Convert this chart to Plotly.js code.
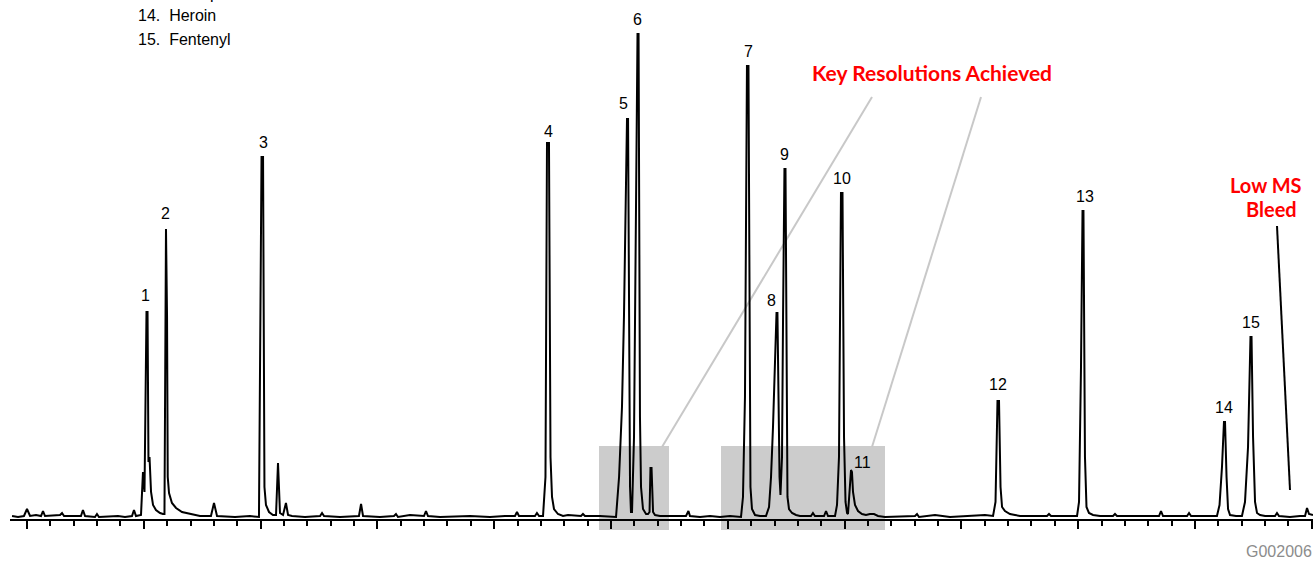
<!DOCTYPE html>
<html>
<head>
<meta charset="utf-8">
<script src="https://cdn.plot.ly/plotly-3.0.1.min.js"></script>
<style>
  html, body { margin: 0; padding: 0; background: #ffffff; }
  #chart { width: 1315px; height: 561px; }
</style>
</head>
<body>
<div id="chart"></div>
<script>
// ---- Data ----
// Retention time (min) and detector abundance (arbitrary units) of the total ion trace
const retentionTime = [
  1.872, 1.923, 1.974, 2.000, 2.026, 2.077, 2.120, 2.137, 2.154, 2.283, 2.300, 2.317,
  2.462, 2.479, 2.497, 2.582, 2.599, 2.616, 2.779, 2.839, 2.899, 2.916, 2.933, 2.976,
  2.993, 3.006, 3.023, 3.032, 3.040, 3.049, 3.062, 3.079, 3.104, 3.139, 3.164, 3.177,
  3.190, 3.199, 3.205, 3.216, 3.241, 3.276, 3.327, 3.396, 3.481, 3.575, 3.601, 3.627,
  3.781, 3.909, 3.986, 4.008, 4.021, 4.033, 4.046, 4.072, 4.106, 4.132, 4.149, 4.166,
  4.192, 4.217, 4.235, 4.269, 4.380, 4.509, 4.526, 4.543, 4.680, 4.842, 4.860, 4.877,
  5.022, 5.142, 5.159, 5.176, 5.279, 5.399, 5.416, 5.433, 5.536, 5.793, 5.964, 6.092,
  6.178, 6.195, 6.212, 6.349, 6.366, 6.384, 6.418, 6.439, 6.452, 6.469, 6.482, 6.495,
  6.512, 6.546, 6.589, 6.632, 6.743, 6.760, 6.777, 6.906, 7.009, 7.043, 7.069, 7.094,
  7.111, 7.128, 7.137, 7.146, 7.154, 7.163, 7.171, 7.180, 7.197, 7.214, 7.227, 7.236,
  7.248, 7.257, 7.274, 7.300, 7.317, 7.330, 7.338, 7.347, 7.360, 7.377, 7.419, 7.505,
  7.591, 7.642, 7.663, 7.676, 7.762, 7.848, 7.933, 8.019, 8.113, 8.130, 8.147, 8.164,
  8.177, 8.186, 8.194, 8.207, 8.233, 8.276, 8.327, 8.353, 8.370, 8.387, 8.404, 8.417,
  8.425, 8.434, 8.443, 8.451, 8.464, 8.473, 8.485, 8.494, 8.503, 8.511, 8.524, 8.550,
  8.584, 8.618, 8.712, 8.729, 8.746, 8.824, 8.841, 8.858, 8.918, 8.935, 8.952, 8.969,
  8.982, 8.995, 9.008, 9.021, 9.029, 9.042, 9.055, 9.063, 9.072, 9.089, 9.115, 9.149,
  9.183, 9.217, 9.252, 9.286, 9.346, 9.603, 9.620, 9.637, 9.774, 9.902, 10.116, 10.202,
  10.271, 10.292, 10.309, 10.322, 10.335, 10.348, 10.373, 10.416, 10.459, 10.502, 10.673, 10.733,
  10.750, 10.767, 10.887, 10.990, 11.007, 11.024, 11.037, 11.045, 11.058, 11.071, 11.092, 11.127,
  11.187, 11.298, 11.315, 11.332, 11.443, 11.572, 11.692, 11.709, 11.726, 11.829, 11.932, 11.949,
  11.966, 12.085, 12.188, 12.210, 12.231, 12.248, 12.257, 12.270, 12.283, 12.300, 12.351, 12.402,
  12.428, 12.454, 12.475, 12.484, 12.497, 12.514, 12.531, 12.557, 12.600, 12.685, 12.702, 12.719,
  12.813, 12.899, 12.942, 12.959, 12.976, 13.010
];
const abundance = [
  1, 0, 1, 8, 1, 2, 1, 6, 1, 2, 4, 1,
  1, 7, 1, 0, 3, 0, 1, 0, 1, 7, 1, 2,
  45, 25, 205, 205, 55, 60, 25, 12, 7, 4, 3, 3,
  288, 200, 40, 24, 14, 9, 5, 3, 1, 1, 14, 1,
  0, 1, 0, 360, 360, 30, 12, 5, 2, 2, 54, 4,
  2, 14, 2, 1, 0, 1, 4, 1, 0, 1, 13, 1,
  0, 1, 3, 0, 2, 1, 6, 1, 0, 1, 0, 1,
  1, 5, 1, 1, 4, 1, 1, 40, 374, 374, 60, 20,
  8, 3, 1, 2, 1, 3, 1, 1, 0, 0, 40, 110,
  200, 330, 398, 398, 150, 30, 5, 5, 80, 300, 483, 483,
  100, 30, 8, 3, 3, 5, 49, 49, 5, 2, 1, 1,
  1, 1, 6, 1, 0, 1, 0, 1, 0, 20, 120, 451,
  451, 150, 30, 8, 2, 1, 1, 10, 40, 90, 160, 204,
  204, 100, 40, 22, 60, 200, 348, 348, 100, 20, 8, 4,
  2, 1, 1, 4, 1, 1, 6, 1, 1, 12, 60, 324,
  324, 80, 15, 4, 3, 30, 47, 45, 25, 12, 6, 3,
  2, 3, 3, 1, 0, 1, 3, 0, 2, 0, 1, 2,
  1, 15, 116, 116, 30, 10, 6, 3, 2, 1, 1, 1,
  3, 1, 1, 1, 15, 150, 306, 306, 60, 10, 4, 2,
  1, 1, 3, 1, 1, 1, 1, 6, 1, 1, 1, 4,
  1, 1, 1, 12, 50, 95, 95, 40, 8, 2, 1, 1,
  15, 70, 180, 180, 80, 15, 4, 2, 1, 1, 4, 1,
  0, 1, 1, 9, 3, 2
];

// Numbered peaks: label, apex retention time, apex abundance
const peakNumbers = ["1", "2", "3", "4", "5", "6", "7", "8", "9", "10", "11", "12", "13", "14", "15"];
const peakRT      = [3.027, 3.190, 4.015, 6.461, 7.141, 7.231, 8.170, 8.421, 8.489, 8.976, 9.055, 10.315, 11.041, 12.252, 12.479];
const peakHeight  = [205, 288, 360, 374, 398, 483, 451, 204, 348, 324, 47, 116, 306, 95, 180];

// Visible (partly cropped) compound key lines
const keyNumbers   = ["13.", "14.", "15."];
const keyCompounds = ["Diazepam", "Heroin", "Fentenyl"];

// Callout texts
const calloutResolution = "Key Resolutions Achieved";
const calloutBleedLines = ["Low MS", "Bleed"];
const figureCode = "G002006";

// ---- Layout helpers (pixel placement) ----
const W = 1315, H = 561;
const mL = 10, mR = 2, mT = 20, mB = 42;
const plotW = W - mL - mR, plotH = H - mT - mB;
const px = v => (v - mL) / plotW;          // page x pixel -> paper
const py = v => (H - mB - v) / plotH;       // page y pixel -> paper

const labelXShift = {"1": -1, "3": 1, "5": -4, "7": 1, "8": -5, "11": 11, "13": 2};
const labelYShift = {"11": 8, "1": 17, "2": 16, "12": 17, "5": 16, "4": 12, "8": 13};

const annotations = [];
peakNumbers.forEach((lab, i) => {
  annotations.push({
    x: peakRT[i], y: peakHeight[i], xref: "x", yref: "y",
    text: lab, showarrow: false,
    xanchor: "center", yanchor: "middle",
    xshift: labelXShift[lab] || 0,
    yshift: labelYShift[lab] !== undefined ? labelYShift[lab] : 14.5,
    font: {family: "Liberation Sans, Arial, sans-serif", size: 16, color: "#000000"}
  });
});

keyNumbers.forEach((n, i) => {
  annotations.push({
    x: px(136), y: py(-7 + 23 * i), xref: "paper", yref: "paper",
    text: n + "\u00a0\u00a0" + keyCompounds[i], showarrow: false,
    xanchor: "left", yanchor: "middle",
    font: {family: "Liberation Sans, Arial, sans-serif", size: 16, color: "#000000"}
  });
});

annotations.push({
  x: px(932), y: py(72), xref: "paper", yref: "paper",
  text: "<b>" + calloutResolution + "</b>", showarrow: false,
  xanchor: "center", yanchor: "middle",
  font: {family: "Lato, sans-serif", size: 21, color: "#ff0000"}
});
calloutBleedLines.forEach((t, i) => {
  annotations.push({
    x: px([1266, 1271][i]), y: py([185, 209][i]), xref: "paper", yref: "paper",
    text: "<b>" + t + "</b>", showarrow: false,
    xanchor: "center", yanchor: "middle",
    font: {family: "Lato, sans-serif", size: 20, color: "#ff0000"}
  });
});
annotations.push({
  x: px(1314), y: py(551), xref: "paper", yref: "paper",
  text: figureCode, showarrow: false,
  xanchor: "right", yanchor: "middle",
  font: {family: "Liberation Sans, Arial, sans-serif", size: 16, color: "#8c8c8c"}
});

const shapes = [
  // grey highlight boxes
  {type: "rect", xref: "paper", yref: "paper", layer: "below",
   x0: px(599), x1: px(669), y0: py(530), y1: py(446),
   fillcolor: "#cccccc", line: {width: 0}},
  {type: "rect", xref: "paper", yref: "paper", layer: "below",
   x0: px(721), x1: px(885), y0: py(530), y1: py(446),
   fillcolor: "#cccccc", line: {width: 0}},
  // grey callout lines
  {type: "line", xref: "paper", yref: "paper", layer: "below",
   x0: px(662), y0: py(447), x1: px(872), y1: py(97),
   line: {color: "#c8c8c8", width: 2}},
  {type: "line", xref: "paper", yref: "paper", layer: "below",
   x0: px(872), y0: py(447), x1: px(981), y1: py(97),
   line: {color: "#c8c8c8", width: 2}},
  // bleed pointer
  {type: "line", xref: "paper", yref: "paper",
   x0: px(1277), y0: py(226), x1: px(1290), y1: py(490),
   line: {color: "#000000", width: 2}}
];

const trace = {
  x: retentionTime, y: abundance,
  type: "scatter", mode: "lines",
  line: {color: "#000000", width: 2},
  hoverinfo: "x+y", showlegend: false
};

const layout = {
  width: W, height: H,
  margin: {l: mL, r: mR, t: mT, b: mB, pad: 0},
  paper_bgcolor: "#ffffff",
  plot_bgcolor: "rgba(0,0,0,0)",
  showlegend: false,
  xaxis: {
    range: [2 + (mL - 27) / 116.8, 2 + (W - mR - 27) / 116.8],
    showgrid: false, zeroline: false,
    showline: true, linecolor: "#000000", linewidth: 2,
    ticks: "outside", tick0: 0, dtick: 1, ticklen: 8, tickwidth: 2, tickcolor: "#000000",
    minor: {ticks: "outside", dtick: 0.2, tick0: 0, ticklen: 5, tickwidth: 2, tickcolor: "#000000", showgrid: false},
    showticklabels: false, fixedrange: true
  },
  yaxis: {
    range: [-2, 497], visible: false, fixedrange: true
  },
  annotations: annotations,
  shapes: shapes
};

Plotly.newPlot("chart", [trace], layout, {staticPlot: true, displayModeBar: false});
</script>
</body>
</html>
